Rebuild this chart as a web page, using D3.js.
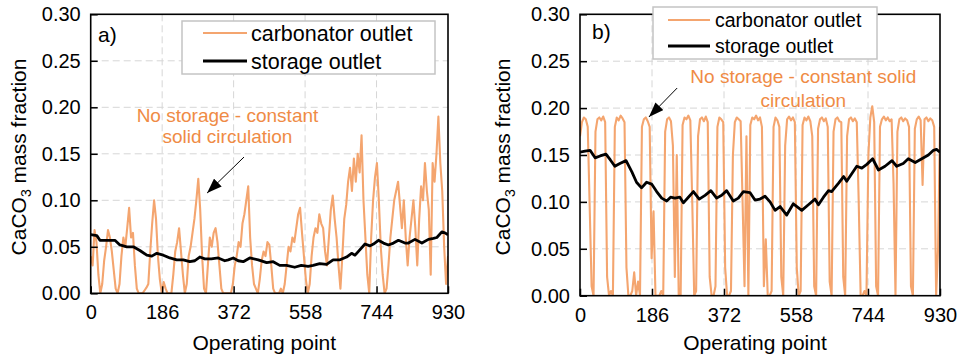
<!DOCTYPE html>
<html>
<head>
<meta charset="utf-8">
<script src="https://cdn.jsdelivr.net/npm/d3@7"></script>
<style>
  body { margin: 0; background: #fff; }
  svg { display: block; }
  text { font-family: "Liberation Sans", Arial, Helvetica, sans-serif; }
</style>
</head>
<body>
<svg id="chart" width="961" height="358"></svg>
<script>
// operating point spacing of the carbonator samples
const opStep = 5;
const xTicks = [0, 186, 372, 558, 744, 930];
const yTicks = [0, 0.05, 0.10, 0.15, 0.20, 0.25, 0.30];
const seriesNames = ['carbonator outlet', 'storage outlet'];
const noteLinesA = ['No storage - constant', 'solid circulation'];
const noteLinesB = ['No storage - constant solid', 'circulation'];

// a) carbonator outlet, one value every 5 operating points
const carbonatorA = [
  0.040, 0.030, 0.068, 0.055, 0.020, 0.000, 0.010, 0.035, 0.050, 0.068,
  0.060, 0.045, 0.025, 0.005, 0.000, 0.010, 0.040, 0.060, 0.050, 0.070,
  0.092, 0.060, 0.065, 0.030, 0.005, 0.000, 0.000, 0.000, 0.003, 0.006,
  0.010, 0.045, 0.075, 0.100, 0.080, 0.040, 0.015, 0.000, 0.012, 0.005,
  0.000, 0.000, 0.000, 0.020, 0.045, 0.055, 0.070, 0.045, 0.020, 0.000,
  0.010, 0.040, 0.050, 0.065, 0.080, 0.100, 0.123, 0.090, 0.040, 0.005,
  0.000, 0.030, 0.060, 0.050, 0.065, 0.070, 0.055, 0.030, 0.005, 0.000,
  0.000, 0.000, 0.000, 0.000, 0.010, 0.030, 0.040, 0.055, 0.050, 0.075,
  0.085, 0.100, 0.115, 0.060, 0.030, 0.010, 0.005, 0.000, 0.015, 0.035,
  0.045, 0.040, 0.055, 0.052, 0.030, 0.005, 0.000, 0.000, 0.000, 0.005,
  0.000, 0.010, 0.030, 0.050, 0.045, 0.060, 0.055, 0.070, 0.085, 0.092,
  0.065, 0.040, 0.015, 0.000, 0.010, 0.040, 0.060, 0.070, 0.065, 0.085,
  0.075, 0.070, 0.045, 0.030, 0.060, 0.090, 0.105, 0.080, 0.060, 0.030,
  0.005, 0.040, 0.080, 0.095, 0.120, 0.135, 0.110, 0.145, 0.120, 0.150,
  0.130, 0.170, 0.100, 0.060, 0.020, 0.000, 0.060, 0.100, 0.125, 0.140,
  0.100, 0.050, 0.020, 0.000, 0.005, 0.030, 0.060, 0.080, 0.100, 0.110,
  0.120, 0.095, 0.070, 0.100, 0.060, 0.030, 0.060, 0.080, 0.100, 0.070,
  0.030, 0.080, 0.115, 0.100, 0.140, 0.110, 0.090, 0.020, 0.140, 0.120,
  0.150, 0.190, 0.140, 0.110, 0.050, 0.010, 0.040
];

// a) storage outlet
const storageOpsA = [
  0, 16, 24, 42, 63, 76, 94, 111, 128, 146,
  159, 172, 189, 206, 224, 241, 258, 271, 284, 297,
  314, 332, 349, 358, 371, 384, 397, 414, 436, 458,
  475, 492, 510, 531, 548, 566, 579, 596, 614, 631,
  649, 666, 679, 688, 701, 714, 727, 736, 749, 762,
  775, 788, 801, 818, 827, 844, 862, 879, 892, 901,
  914, 922, 930
];
const storageA = [
  0.063, 0.062, 0.057, 0.057, 0.057, 0.052, 0.050, 0.050, 0.046, 0.041,
  0.040, 0.043, 0.041, 0.038, 0.036, 0.036, 0.034, 0.035, 0.039, 0.037,
  0.037, 0.038, 0.035, 0.036, 0.038, 0.035, 0.034, 0.038, 0.036, 0.033,
  0.034, 0.030, 0.030, 0.028, 0.030, 0.029, 0.030, 0.032, 0.031, 0.036,
  0.036, 0.039, 0.043, 0.041, 0.047, 0.053, 0.051, 0.053, 0.057, 0.054,
  0.052, 0.054, 0.057, 0.054, 0.054, 0.058, 0.054, 0.058, 0.059, 0.060,
  0.066, 0.065, 0.063
];

// b) carbonator outlet, one value every 5 operating points
const carbonatorB = [
  0.170, 0.185, 0.190, 0.188, 0.180, 0.095, 0.010, 0.000, 0.175, 0.188,
  0.190, 0.187, 0.191, 0.185, 0.020, 0.000, 0.005, 0.000, 0.180, 0.190,
  0.187, 0.192, 0.189, 0.185, 0.030, 0.000, 0.000, 0.005, 0.025, 0.000,
  0.015, 0.000, 0.180, 0.188, 0.190, 0.186, 0.180, 0.040, 0.090, 0.000,
  0.000, 0.000, 0.005, 0.000, 0.175, 0.188, 0.190, 0.186, 0.160, 0.020,
  0.150, 0.000, 0.000, 0.182, 0.190, 0.188, 0.192, 0.187, 0.100, 0.000,
  0.005, 0.170, 0.188, 0.190, 0.186, 0.191, 0.185, 0.020, 0.000, 0.000,
  0.010, 0.180, 0.190, 0.188, 0.185, 0.030, 0.000, 0.000, 0.005, 0.150,
  0.185, 0.190, 0.188, 0.186, 0.100, 0.010, 0.170, 0.000, 0.182, 0.190,
  0.188, 0.192, 0.187, 0.190, 0.180, 0.010, 0.060, 0.000, 0.000, 0.005,
  0.180, 0.190, 0.187, 0.180, 0.020, 0.000, 0.160, 0.188, 0.191, 0.187,
  0.190, 0.185, 0.030, 0.000, 0.005, 0.182, 0.190, 0.187, 0.191, 0.186,
  0.170, 0.010, 0.000, 0.178, 0.188, 0.190, 0.186, 0.189, 0.180, 0.015,
  0.000, 0.175, 0.188, 0.190, 0.186, 0.185, 0.020, 0.000, 0.170, 0.188,
  0.190, 0.186, 0.189, 0.185, 0.100, 0.000, 0.000, 0.005, 0.000, 0.150,
  0.190, 0.202, 0.185, 0.010, 0.000, 0.180, 0.188, 0.191, 0.187, 0.190,
  0.186, 0.188, 0.120, 0.000, 0.175, 0.188, 0.190, 0.186, 0.189, 0.187,
  0.180, 0.010, 0.000, 0.178, 0.188, 0.191, 0.187, 0.118, 0.188, 0.190,
  0.186, 0.189, 0.187, 0.180, 0.000, 0.050, 0.180
];

// b) storage outlet
const storageOpsB = [
  0, 13, 26, 39, 52, 67, 78, 90, 103, 119,
  134, 146, 159, 172, 185, 198, 211, 224, 234, 245,
  258, 267, 280, 293, 308, 323, 338, 353, 366, 379,
  396, 409, 422, 439, 452, 465, 478, 491, 504, 517,
  534, 551, 573, 590, 607, 616, 629, 642, 650, 668,
  681, 689, 702, 715, 728, 741, 756, 771, 788, 806,
  818, 835, 848, 866, 883, 900, 913, 921, 930
];
const storageB = [
  0.153, 0.154, 0.155, 0.147, 0.149, 0.151, 0.145, 0.138, 0.141, 0.144,
  0.132, 0.121, 0.115, 0.121, 0.119, 0.111, 0.104, 0.101, 0.105, 0.104,
  0.105, 0.099, 0.105, 0.111, 0.103, 0.107, 0.112, 0.104, 0.107, 0.112,
  0.101, 0.104, 0.111, 0.110, 0.102, 0.103, 0.106, 0.100, 0.091, 0.095,
  0.086, 0.098, 0.091, 0.097, 0.103, 0.097, 0.105, 0.112, 0.111, 0.120,
  0.127, 0.122, 0.130, 0.138, 0.136, 0.140, 0.146, 0.134, 0.138, 0.144,
  0.138, 0.141, 0.146, 0.142, 0.146, 0.150, 0.155, 0.156, 0.153
];

const orangeLine = '#f4a56f';
const orangeText = '#ef8b45';

const panels = [
  {
    label: 'a)', carbonator: carbonatorA, storageOps: storageOpsA, storage: storageA,
    box: { x: 90.7, y: 14.3, w: 357.3, h: 279 },
    labelPos: [98, 42],
    legend: { x: 182, y: 21, w: 253, h: 53, size: 21.5, rows: [33, 61], line: [203, 247], textX: 251 },
    note: { lines: noteLinesA, op: 356, vals: [0.184, 0.1616] },
    arrow: { from: [399, 0.1465], to: [303, 0.1078] },
    yTitleX: 26
  },
  {
    label: 'b)', carbonator: carbonatorB, storageOps: storageOpsB, storage: storageB,
    box: { x: 580, y: 14.3, w: 360, h: 281.4 },
    labelPos: [592, 39],
    legend: { x: 653, y: 7, w: 224, h: 52, size: 19.5, rows: [20, 46], line: [668, 710], textX: 715 },
    note: { lines: noteLinesB, op: 577, vals: [0.2267, 0.2012] },
    arrow: { from: [251, 0.2214], to: [178, 0.1905] },
    yTitleX: 510
  }
];

const svg = d3.select('#chart');

svg.append('defs').append('marker')
  .attr('id', 'arrowHead')
  .attr('markerUnits', 'userSpaceOnUse')
  .attr('markerWidth', 15)
  .attr('markerHeight', 11)
  .attr('refX', 15)
  .attr('refY', 5.5)
  .attr('orient', 'auto')
  .append('path')
  .attr('d', 'M0,0 L15,5.5 L0,11 Z')
  .attr('fill', '#000');

panels.forEach((p, i) => {
  const b = p.box;
  const x = d3.scaleLinear().domain([0, 930]).range([b.x, b.x + b.w]);
  const y = d3.scaleLinear().domain([0, 0.30]).range([b.y + b.h, b.y]);

  const clipId = 'clip' + i;
  svg.append('clipPath').attr('id', clipId)
    .append('rect')
    .attr('x', b.x).attr('y', b.y)
    .attr('width', b.w).attr('height', b.h);

  // dashed grid
  const grid = svg.append('g')
    .attr('stroke', '#d6d6d6')
    .attr('stroke-width', 1)
    .attr('stroke-dasharray', '7,4');
  grid.selectAll('.gx')
    .data(xTicks.slice(1, -1))
    .enter().append('line')
    .attr('x1', d => x(d)).attr('x2', d => x(d))
    .attr('y1', b.y).attr('y2', b.y + b.h);
  grid.selectAll('.gy')
    .data(yTicks.slice(1, -1))
    .enter().append('line')
    .attr('x1', b.x).attr('x2', b.x + b.w)
    .attr('y1', d => y(d)).attr('y2', d => y(d));

  // lines
  const plot = svg.append('g').attr('clip-path', `url(#${clipId})`);
  const line = d3.line().x(d => x(d[0])).y(d => y(d[1]));

  const carbPts = p.carbonator.map((v, k) => [k * opStep, v]);
  plot.append('path')
    .attr('d', line(carbPts))
    .attr('fill', 'none')
    .attr('stroke', orangeLine)
    .attr('stroke-width', 2.1)
    .attr('stroke-linejoin', 'round');

  const storPts = p.storage.map((v, k) => [p.storageOps[k], v]);
  plot.append('path')
    .attr('d', line(storPts))
    .attr('fill', 'none')
    .attr('stroke', '#000')
    .attr('stroke-width', 2.8)
    .attr('stroke-linejoin', 'round');

  // axes, ticks pointing inward
  const xAxis = svg.append('g')
    .attr('transform', `translate(0,${b.y + b.h})`)
    .call(d3.axisBottom(x).tickValues(xTicks).tickSize(-7).tickPadding(12).tickFormat(d3.format('d')));
  const yAxis = svg.append('g')
    .attr('transform', `translate(${b.x},0)`)
    .call(d3.axisLeft(y).tickValues(yTicks).tickSize(-7).tickPadding(10).tickFormat(d3.format('.2f')));
  [xAxis, yAxis].forEach(ax => {
    ax.select('.domain').remove();
    ax.selectAll('line').attr('stroke', '#000').attr('stroke-width', 1.5);
    ax.selectAll('text').style('font-size', '20px').attr('fill', '#000');
  });

  // frame
  svg.append('rect')
    .attr('x', b.x).attr('y', b.y)
    .attr('width', b.w).attr('height', b.h)
    .attr('fill', 'none')
    .attr('stroke', '#000')
    .attr('stroke-width', 1.6);

  // axis titles
  svg.append('text')
    .attr('x', b.x + b.w / 2 - 5)
    .attr('y', 350)
    .attr('text-anchor', 'middle')
    .style('font-size', '21px')
    .text('Operating point');

  const yt = svg.append('text')
    .attr('transform', `translate(${p.yTitleX},157) rotate(-90)`)
    .attr('text-anchor', 'middle')
    .style('font-size', '21px');
  yt.append('tspan').text('CaCO');
  yt.append('tspan').attr('dy', 5).style('font-size', '14px').text('3');
  yt.append('tspan').attr('dy', -5).text(' mass fraction');

  // panel label
  svg.append('text')
    .attr('x', p.labelPos[0]).attr('y', p.labelPos[1])
    .style('font-size', '21px')
    .text(p.label);

  // annotation
  p.note.lines.forEach((t, k) => {
    svg.append('text')
      .attr('x', x(p.note.op))
      .attr('y', y(p.note.vals[k]))
      .attr('text-anchor', 'middle')
      .attr('fill', orangeText)
      .style('font-size', '19px')
      .text(t);
  });
  svg.append('line')
    .attr('x1', x(p.arrow.from[0])).attr('y1', y(p.arrow.from[1]))
    .attr('x2', x(p.arrow.to[0])).attr('y2', y(p.arrow.to[1]))
    .attr('stroke', '#000')
    .attr('stroke-width', 1)
    .attr('marker-end', 'url(#arrowHead)');

  // legend
  const lg = p.legend;
  svg.append('rect')
    .attr('x', lg.x).attr('y', lg.y)
    .attr('width', lg.w).attr('height', lg.h)
    .attr('fill', '#fff')
    .attr('stroke', '#c4c4c4')
    .attr('stroke-width', 1.5);
  seriesNames.forEach((name, k) => {
    svg.append('line')
      .attr('x1', lg.line[0]).attr('x2', lg.line[1])
      .attr('y1', lg.rows[k]).attr('y2', lg.rows[k])
      .attr('stroke', k === 0 ? orangeLine : '#000')
      .attr('stroke-width', k === 0 ? 2.1 : 2.8);
    svg.append('text')
      .attr('x', lg.textX).attr('y', lg.rows[k])
      .attr('dy', '0.35em')
      .style('font-size', lg.size + 'px')
      .text(name);
  });
});
</script>
</body>
</html>
